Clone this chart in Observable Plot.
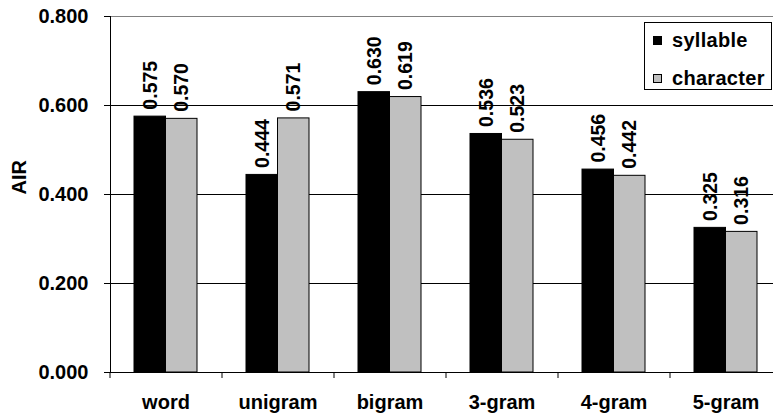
<!DOCTYPE html>
<html>
<head>
<meta charset="utf-8">
<script src="https://cdn.jsdelivr.net/npm/d3@7"></script>
<script src="https://cdn.jsdelivr.net/npm/@observablehq/plot@0.6"></script>
<style>
  html, body { margin: 0; padding: 0; background: #fff; }
  #chart { position: relative; width: 773px; height: 418px; overflow: hidden; }
  #legend {
    position: absolute; left: 644px; top: 22px; width: 128px; height: 68px;
    border: 1px solid #000; background: #fff; box-sizing: border-box;
    font-family: "Liberation Sans", Arial, sans-serif; font-weight: bold; font-size: 20px; color: #000;
  }
  #legend .item { position: absolute; left: 8px; height: 23px; line-height: 23px; display: flex; align-items: center; white-space: nowrap; letter-spacing: 0.3px; }
  #legend .sw { width: 9px; height: 9px; border: 1px solid #000; box-sizing: border-box; margin-right: 10px; }
</style>
</head>
<body>
<div id="chart"></div>
<script>
const categories = ["word", "unigram", "bigram", "3-gram", "4-gram", "5-gram"];
const seriesNames = ["syllable", "character"];
const syllable = [0.575, 0.444, 0.630, 0.536, 0.456, 0.325];
const character = [0.570, 0.571, 0.619, 0.523, 0.442, 0.316];
const yTicks = [0, 0.2, 0.4, 0.6, 0.8];
const colors = ["#000000", "#C0C0C0"];

const rows = [];
categories.forEach((c, i) => {
  rows.push({category: c, series: seriesNames[0], value: syllable[i]});
  rows.push({category: c, series: seriesNames[1], value: character[i]});
});
const s0 = rows.filter(d => d.series === seriesNames[0]);
const s1 = rows.filter(d => d.series === seriesNames[1]);
const fmt = d3.format(".3f");
const font = "'Liberation Sans', Arial, sans-serif";

const plot = Plot.plot({
  width: 773,
  height: 418,
  marginLeft: 110,
  marginRight: 0,
  marginTop: 16,
  marginBottom: 46,
  style: {fontFamily: font, fontSize: "20px", fontWeight: "bold", color: "#000", background: "#fff", overflow: "visible"},
  x: {domain: categories, range: [109.5, 781.5], paddingInner: 0.4375, paddingOuter: 0.21875, label: null},
  y: {domain: [0, 0.8], label: null},
  marks: [
    Plot.ruleY(yTicks.filter(t => t > 0 && t < 0.8), {stroke: "#000", strokeWidth: 1}),
    Plot.ruleY([0.8], {stroke: "#808080", strokeWidth: 1}),
    Plot.barY(s0, {x: "category", y: "value", fill: colors[0], stroke: "#000", strokeWidth: 1, insetRight: 31.5}),
    Plot.barY(s1, {x: "category", y: "value", fill: colors[1], stroke: "#000", strokeWidth: 1, insetLeft: 31.5}),
    Plot.text(s0, {x: "category", y: "value", text: d => fmt(d.value), rotate: -90, textAnchor: "start", dx: -15.75, dy: -7, fill: "#000", fontSize: 19.5, fontWeight: "bold"}),
    Plot.text(s1, {x: "category", y: "value", text: d => fmt(d.value), rotate: -90, textAnchor: "start", dx: 15.75, dy: -7, fill: "#000", fontSize: 19.5, fontWeight: "bold"}),
    Plot.ruleY([0], {stroke: "#000", strokeWidth: 1}),
    Plot.ruleX(categories, {x: d => d, y1: 0, y2: 0, insetBottom: -6, dx: -56, stroke: "#000"}),
    Plot.frame({anchor: "left", stroke: "#000"}),
    Plot.axisY({ticks: yTicks, tickFormat: fmt, tickSize: 6, tickPadding: 16, label: null, stroke: "#000", fill: "#000"}),
    Plot.axisX({tickSize: 0, tickPadding: 22, label: null, fill: "#000", style: {letterSpacing: "0.5px"}}),
    Plot.text(["AIR"], {frameAnchor: "left", rotate: -90, dx: -91, fontSize: 20, fontWeight: "bold", fill: "#000"})
  ]
});
const chart = document.getElementById("chart");
chart.appendChild(plot);

const legend = document.createElement("div");
legend.id = "legend";
seriesNames.forEach((name, i) => {
  const item = document.createElement("div");
  item.className = "item";
  item.style.top = (i === 0 ? 6 : 44) + "px";
  const sw = document.createElement("span");
  sw.className = "sw";
  sw.style.background = colors[i];
  const label = document.createElement("span");
  label.textContent = name;
  item.appendChild(sw);
  item.appendChild(label);
  legend.appendChild(item);
});
chart.appendChild(legend);
</script>
</body>
</html>
